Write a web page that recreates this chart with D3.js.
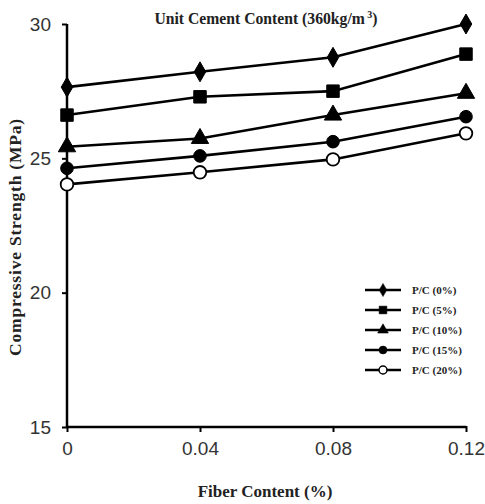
<!DOCTYPE html>
<html>
<head>
<meta charset="utf-8">
<script src="https://cdn.jsdelivr.net/npm/d3@7"></script>
<style>
  body { margin: 0; background: #fff; }
  svg { display: block; }
</style>
</head>
<body>
<svg id="chart" width="485" height="504"></svg>
<script>
const fiber = [0, 0.04, 0.08, 0.12];
const xTicks = ["0", "0.04", "0.08", "0.12"];
const yTicks = [15, 20, 25, 30];

const seriesNames = ["P/C (0%)", "P/C (5%)", "P/C (10%)", "P/C (15%)", "P/C (20%)"];
const pc0 = [27.65, 28.22, 28.76, 30.0];
const pc5 = [26.61, 27.29, 27.5, 28.88];
const pc10 = [25.43, 25.74, 26.61, 27.42];
const pc15 = [24.63, 25.09, 25.62, 26.55];
const pc20 = [24.03, 24.48, 24.96, 25.93];
const seriesValues = [pc0, pc5, pc10, pc15, pc20];
const markers = ["diamond", "square", "triangle", "circle", "open"];

const serif = "'Liberation Serif', 'Times New Roman', serif";
const sans = "'Liberation Sans', Arial, sans-serif";

const svg = d3.select("#chart");

const x = d3.scaleLinear().domain([0, 0.12]).range([67, 466]);
const y = d3.scaleLinear().domain([15, 30]).range([427, 24]);

// axes
const xAxis = svg.append("g")
  .attr("transform", `translate(0,${y(15)})`)
  .call(d3.axisBottom(x).tickValues(fiber).tickSize(5).tickPadding(8)
    .tickFormat((d, i) => xTicks[i]));
const yAxis = svg.append("g")
  .attr("transform", `translate(${x(0)},0)`)
  .call(d3.axisLeft(y).tickValues(yTicks).tickSize(5).tickPadding(11));

[xAxis, yAxis].forEach(a => {
  a.select(".domain").attr("stroke", "#000").attr("stroke-width", 2.5);
  a.selectAll(".tick line").attr("stroke", "#000").attr("stroke-width", 2);
  a.selectAll(".tick text")
    .attr("fill", "#333")
    .style("font-family", sans)
    .style("font-size", "19px");
});
xAxis.select(".domain").attr("d", `M${x(0)},0H${x(0.12)}`);
xAxis.selectAll(".tick line").attr("y1", -1).attr("y2", 5);
yAxis.select(".domain").attr("d", `M0,${y(15)}V${y(30)}`);
xAxis.selectAll(".tick text").attr("dy", "0.8em");

const symbolFor = {
  diamond: d3.symbol().type(d3.symbolDiamond).size(115),
  square: d3.symbol().type(d3.symbolSquare).size(155),
  triangle: d3.symbol().type(d3.symbolTriangle).size(130),
  circle: d3.symbol().type(d3.symbolCircle).size(125),
  open: d3.symbol().type(d3.symbolCircle).size(125)
};

const line = d3.line().x((d, i) => x(fiber[i])).y(d => y(d));

seriesValues.forEach((vals, s) => {
  const g = svg.append("g");
  g.append("path")
    .datum(vals)
    .attr("d", line)
    .attr("fill", "none")
    .attr("stroke", "#000")
    .attr("stroke-width", 2.6);
  g.selectAll("path.mark")
    .data(vals)
    .enter()
    .append("path")
    .attr("class", "mark")
    .attr("transform", (d, i) => `translate(${x(fiber[i])},${y(d)})`)
    .attr("d", symbolFor[markers[s]])
    .attr("fill", markers[s] === "open" ? "#fff" : "#000")
    .attr("stroke", "#000")
    .attr("stroke-width", markers[s] === "open" ? 1.8 : 1);
});

// legend
const legend = svg.append("g").attr("transform", "translate(365,290)");
seriesNames.forEach((name, s) => {
  const row = legend.append("g").attr("transform", `translate(0,${s * 20})`);
  row.append("line")
    .attr("x1", 0).attr("x2", 36)
    .attr("stroke", "#000").attr("stroke-width", 2.6);
  const legendSym = d3.symbol()
    .type(markers[s] === "diamond" ? d3.symbolDiamond
      : markers[s] === "square" ? d3.symbolSquare
      : markers[s] === "triangle" ? d3.symbolTriangle : d3.symbolCircle)
    .size(markers[s] === "square" ? 60 : 50);
  row.append("path")
    .attr("transform", "translate(18,0)")
    .attr("d", legendSym)
    .attr("fill", markers[s] === "open" ? "#fff" : "#000")
    .attr("stroke", "#000")
    .attr("stroke-width", markers[s] === "open" ? 1.5 : 0.5);
  row.append("text")
    .attr("x", 47)
    .attr("y", 0)
    .attr("dy", "0.35em")
    .style("font-family", serif)
    .style("font-weight", "bold")
    .style("font-size", "11px")
    .attr("fill", "#222")
    .text(name);
});

// titles
svg.append("text")
  .attr("x", 266).attr("y", 24)
  .attr("text-anchor", "middle")
  .style("font-family", serif)
  .style("font-weight", "bold")
  .style("font-size", "15.7px")
  .attr("fill", "#222")
  .html("Unit Cement Content (360kg/m<tspan dy='-6' font-size='10px'> 3</tspan><tspan dy='6'>)</tspan>");

svg.append("text")
  .attr("x", 265).attr("y", 497)
  .attr("text-anchor", "middle")
  .style("font-family", serif)
  .style("font-weight", "bold")
  .style("font-size", "17px")
  .attr("fill", "#222")
  .text("Fiber Content (%)");

svg.append("text")
  .attr("transform", "translate(21,237) rotate(-90)")
  .attr("text-anchor", "middle")
  .style("font-family", serif)
  .style("font-weight", "bold")
  .style("font-size", "17.5px")
  .style("letter-spacing", "0.8px")
  .attr("fill", "#222")
  .text("Compressive Strength (MPa)");
</script>
</body>
</html>
